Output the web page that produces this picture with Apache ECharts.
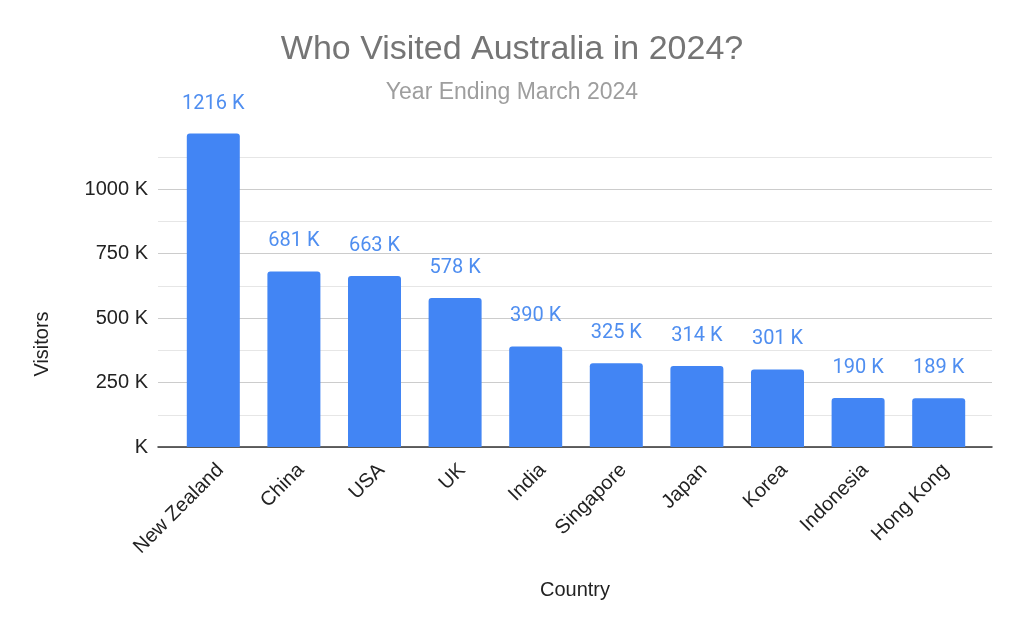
<!DOCTYPE html>
<html>
<head>
<meta charset="utf-8">
<script src="https://cdn.jsdelivr.net/npm/echarts@6/dist/echarts.min.js"></script>
<style>html,body{margin:0;padding:0;background:#fff;}#c{width:1024px;height:633px;}</style>
</head>
<body>
<div id="c"></div>
<script>
const categories = ['New Zealand','China','USA','UK','India','Singapore','Japan','Korea','Indonesia','Hong Kong'];
const visitors = [1216, 681, 663, 578, 390, 325, 314, 301, 190, 189];
const yMin = 0, yMax = 1125, yInterval = 125;

const chart = echarts.init(document.getElementById('c'));
const font = '"Liberation Sans", Arial, sans-serif';
chart.setOption({
  animation: false,
  backgroundColor: '#fff',
  title: [
    {text: 'Who Visited Australia in 2024?', left: 'center', top: 28,
     textStyle: {fontFamily: font, fontSize: 34, fontWeight: 'normal', color: '#757575'}},
    {text: 'Year Ending March 2024', left: 'center', top: 76,
     textStyle: {fontFamily: font, fontSize: 23, fontWeight: 'normal', color: '#9e9e9e'}}
  ],
  grid: [
    {left: 158, right: 32, top: 157, bottom: 186},
    {left: 173, right: 45, top: 157, bottom: 186}
  ],
  xAxis: [
    {type: 'value', gridIndex: 0, min: 0, max: 1, show: true,
     axisLine: {show: true, lineStyle: {color: '#333', width: 1.5}},
     axisTick: {show: false}, axisLabel: {show: false}, splitLine: {show: false}},
    {type: 'category', gridIndex: 1, data: categories,
     axisLine: {show: false}, axisTick: {show: false},
     axisLabel: {rotate: 45, interval: 0, margin: 13, verticalAlign: 'top',
       fontFamily: font, fontSize: 20, color: '#222'}}
  ],
  yAxis: [
    {type: 'value', gridIndex: 0, min: yMin, max: yMax, interval: yInterval,
     axisLine: {show: false}, axisTick: {show: false},
     axisLabel: {margin: 10, fontFamily: font, fontSize: 20, color: '#222',
       formatter: v => (v % 250 === 0 ? (v === 0 ? 'K' : v + ' K') : '')},
     splitLine: {show: true, lineStyle: {color: ['#cccccc', '#e6e6e6'], width: 1.2}}},
    {type: 'value', gridIndex: 1, min: yMin, max: yMax, interval: yInterval, show: false}
  ],
  graphic: [
    {type: 'text', x: 575, y: 590,
     style: {text: 'Country', fontFamily: font, fontSize: 20, fill: '#222', textAlign: 'center', textVerticalAlign: 'middle'}},
    {type: 'text', x: 42, y: 344, rotation: Math.PI / 2,
     style: {text: 'Visitors', fontFamily: font, fontSize: 20, fill: '#222', textAlign: 'center', textVerticalAlign: 'middle'}}
  ],
  series: [{
    type: 'bar', xAxisIndex: 1, yAxisIndex: 1, data: visitors, clip: false,
    barWidth: 53,
    itemStyle: {color: '#4285f4', borderRadius: [3, 3, 0, 0]},
    label: {show: true, position: 'top', distance: 20, formatter: p => p.value + ' K',
      fontFamily: 'Roboto, sans-serif', fontSize: 20, color: '#4f8ef0'}
  }]
});
</script>
</body>
</html>
